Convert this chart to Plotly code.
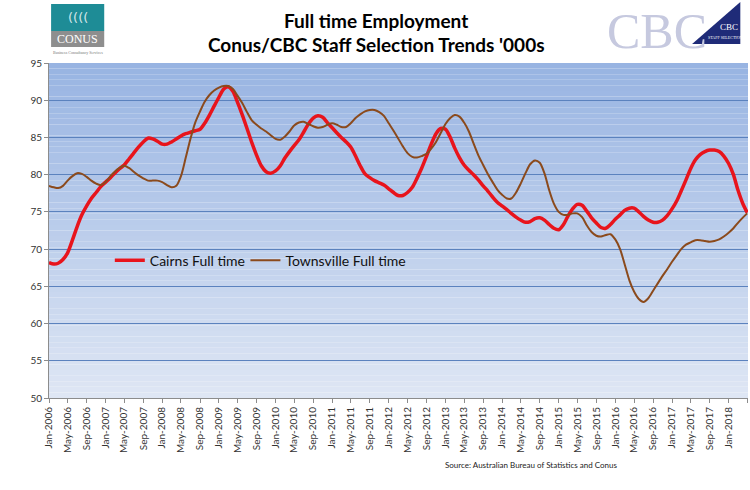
import pandas as pd
import plotly.graph_objects as go

# monthly values, Jan-2006 .. May-2018 ('000s)
months = pd.date_range("2006-01-01", "2018-05-01", freq="MS")

cairns = [
    68.2, 68.0, 68.1, 68.6, 69.5, 71.2, 73.0, 74.6, 75.8, 76.8, 77.6, 78.4,
    79.0, 79.6, 80.2, 80.8, 81.3, 82.1, 82.9, 83.7, 84.4, 84.9, 84.8, 84.5,
    84.1, 84.1, 84.4, 84.8, 85.2, 85.5, 85.7, 85.9, 86.1, 86.9, 88.0, 89.2,
    90.4, 91.5, 91.8, 91.2, 89.7, 88.0, 86.2, 84.3, 82.6, 81.2, 80.4, 80.2,
    80.5, 81.2, 82.2, 83.1, 83.9, 84.7, 85.7, 86.8, 87.6, 87.9, 87.7, 87.0,
    86.3, 85.6, 85.0, 84.4, 83.7, 82.5, 81.2, 80.1, 79.6, 79.2, 78.9, 78.6,
    78.1, 77.6, 77.2, 77.2, 77.6, 78.3, 79.5, 80.9, 82.5, 84.1, 85.5, 86.2,
    86.1, 85.0, 83.6, 82.3, 81.3, 80.6, 80.0, 79.3, 78.5, 77.8, 77.0, 76.3,
    75.8, 75.3, 74.8, 74.3, 73.9, 73.6, 73.7, 74.1, 74.2, 73.9, 73.3, 72.8,
    72.6, 73.3, 74.4, 75.4, 76.0, 75.9, 75.1, 74.2, 73.5, 72.9, 72.8, 73.3,
    74.0, 74.6, 75.2, 75.5, 75.5, 75.0, 74.4, 73.9, 73.6, 73.6, 73.9, 74.5,
    75.4, 76.5, 77.8, 79.3, 80.8, 82.0, 82.7, 83.1, 83.3, 83.3, 83.1, 82.5,
    81.5, 80.0, 78.0, 76.2, 74.9,
]

townsville = [
    78.5, 78.3, 78.2, 78.5, 79.2, 79.8, 80.2, 80.1, 79.7, 79.2, 78.8, 78.6,
    79.0, 79.8, 80.4, 80.9, 81.2, 80.9, 80.4, 79.9, 79.5, 79.2, 79.2, 79.2,
    79.0, 78.6, 78.3, 78.5, 79.8, 82.3, 84.8, 87.0, 88.5, 89.8, 90.7, 91.3,
    91.7, 91.9, 91.9, 91.5, 90.6, 89.6, 88.4, 87.3, 86.7, 86.2, 85.8, 85.3,
    84.8, 84.7, 85.1, 85.8, 86.6, 87.0, 87.1, 86.8, 86.5, 86.3, 86.4, 86.7,
    86.9, 86.7, 86.4, 86.4, 86.9, 87.6, 88.1, 88.5, 88.7, 88.7, 88.4, 87.9,
    86.9, 85.9, 84.9, 83.8, 82.9, 82.4, 82.3, 82.5, 82.8, 83.5, 84.4, 85.6,
    86.8, 87.6, 88.0, 87.8, 87.0, 85.8, 84.2, 82.6, 81.3, 80.1, 79.0, 78.0,
    77.3, 76.8, 76.8, 77.6, 78.8, 80.2, 81.4, 81.9, 81.6, 80.2, 77.9, 76.1,
    75.0, 74.6, 74.6, 74.8, 74.8, 74.3, 73.2, 72.3, 71.8, 71.7, 71.9, 72.0,
    71.3, 70.0, 68.0, 65.8, 64.3, 63.3, 62.9, 63.4, 64.4, 65.4, 66.4, 67.3,
    68.3, 69.2, 70.0, 70.6, 70.9, 71.2, 71.2, 71.1, 71.0, 71.1, 71.3, 71.7,
    72.2, 72.8, 73.5, 74.2, 74.8,
]

y_ticks = list(range(50, 100, 5))

fig = go.Figure()
fig.add_trace(go.Scatter(x=months, y=cairns, name="Cairns Full time", mode="lines",
                         line=dict(color="#E8141C", width=3.5, shape="spline", smoothing=0.8),
                         legend="legend"))
fig.add_trace(go.Scatter(x=months, y=townsville, name="Townsville Full time", mode="lines",
                         line=dict(color="#8B4A1C", width=2, shape="spline", smoothing=0.8),
                         legend="legend2"))

# vertical gradient behind the plot area
shapes = []
n = 60
top, bot = (152, 180, 226), (222, 230, 244)
for i in range(n):
    t = i / (n - 1)
    c = tuple(round(top[k] + (bot[k] - top[k]) * t) for k in range(3))
    shapes.append(dict(type="rect", xref="paper", yref="paper", x0=0, x1=1,
                       y0=1 - (i + 1) / n, y1=1 - i / n, layer="below",
                       line_width=0, fillcolor="rgb(%d,%d,%d)" % c))

# logos, roughly
shapes += [
    dict(type="rect", xref="paper", yref="paper", x0=0.003, x1=0.079, y0=1.0955, y1=1.176,
         fillcolor="#1E8C96", line_width=0),
    dict(type="rect", xref="paper", yref="paper", x0=0.003, x1=0.079, y0=1.048, y1=1.0955,
         fillcolor="#8E8E8E", line_width=0),
]
fig.update_layout(shapes=shapes)


def note(text, x, y, size, color, family="Lato", xanchor="center"):
    return dict(text=text, x=x, y=y, xref="paper", yref="paper", showarrow=False,
                xanchor=xanchor, yanchor="middle",
                font=dict(family=family, size=size, color=color))


annotations = [
    note("<b>Full time Employment</b>", 0.4685, 1.128, 19, "black"),
    note("<b>Conus/CBC Staff Selection Trends '000s</b>", 0.4685, 1.054, 19, "black"),
    note("((((", 0.041, 1.136, 13, "rgba(255,255,255,0.8)", "DejaVu Sans"),
    note("CONUS", 0.041, 1.071, 12, "white", "Liberation Serif"),
    note("Business Consultancy Services", 0.041, 1.031, 4, "#777777", "Liberation Serif"),
    note("CBC", 0.870, 1.0955, 50, "#C6C9DF", "Liberation Serif"),
    note("CBC", 0.973, 1.107, 9, "white", "Liberation Serif"),
    note("STAFF SELECTION", 0.968, 1.075, 4, "white", "Liberation Sans Narrow"),
    note("Source: Australian Bureau of Statistics and Conus", 0.563, -0.2, 8, "#222222",
         xanchor="left"),
]
fig.update_layout(annotations=annotations)

# CBC triangle drawn above the big letters
fig.add_shape(type="path", xref="paper", yref="paper",
              path="M 0.920 1.057 L 0.989 1.057 L 0.989 1.182 Z",
              fillcolor="#1F2B78", line_width=0, layer="above")

leg = dict(orientation="h", xanchor="left", yanchor="middle", y=0.41,
           bgcolor="rgba(0,0,0,0)", font=dict(family="Lato", size=14, color="#111111"))
fig.update_layout(
    width=750, height=490,
    margin=dict(l=49, r=2, t=63, b=92),
    paper_bgcolor="white",
    plot_bgcolor="rgba(0,0,0,0)",
    font=dict(family="Lato", color="#333333"),
    legend=dict(leg, x=0.087),
    legend2=dict(leg, x=0.281),
    showlegend=True,
)
fig.update_xaxes(
    type="date", range=["2006-01-01", "2018-05-06"],
    dtick="M4", tick0="2006-01-01", tickformat="%b-%Y", tickangle=-90,
    showgrid=False, showline=True, linecolor="#8C8C8C", linewidth=1,
    ticks="outside", ticklen=4, tickcolor="#8C8C8C",
    tickfont=dict(family="Lato", size=10, color="#333333"),
)
fig.update_yaxes(
    range=[50, 95], tickvals=y_ticks,
    showgrid=True, gridcolor="#5B82BE", gridwidth=1,
    showline=True, linecolor="#8C8C8C", linewidth=1, zeroline=False,
    ticks="outside", ticklen=4, tickcolor="#8C8C8C",
    tickfont=dict(family="Lato", size=10, color="#333333"),
)

# page body margin would push the 750x490 figure off the window edge
fig.write_html("out.html", config={"displayModeBar": False},
               post_script="document.body.style.margin='0';")
